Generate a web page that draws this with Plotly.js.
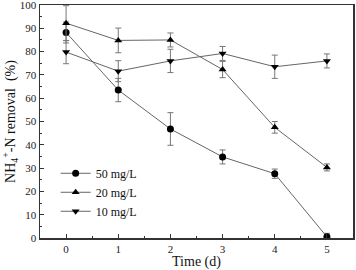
<!DOCTYPE html>
<html><head><meta charset="utf-8">
<script src="https://cdn.plot.ly/plotly-3.0.1.min.js"></script>
<style>body{margin:0;padding:0;background:#fff}#c{width:356px;height:270px}</style>
</head><body><div id="c"></div>
<script>
const time = [0, 1, 2, 3, 4, 5];
const s50 = [88.2, 63.5, 46.8, 34.8, 27.6, 0.5];
const e50 = [4.5, 5.0, 7.0, 3.0, 2.0, 1.5];
const s20 = [92.2, 84.8, 85.0, 72.3, 47.5, 30.3];
const e20 = [7.5, 5.3, 3.0, 3.5, 2.5, 1.5];
const s10 = [79.8, 71.6, 76.0, 79.2, 73.5, 76.0];
const e10 = [5.0, 4.5, 5.0, 3.0, 5.0, 3.0];
const names = ["50 mg/L", "20 mg/L", "10 mg/L"];
const symbols = ["circle", "triangle-up", "triangle-down"];
const topTicks = [0.1, 0.3, 0.5, 0.7, 0.9];

const serif = "Liberation Serif";
function tr(y, e, name, sym) {
  return {
    x: time, y: y, name: name, type: "scatter", mode: "lines+markers",
    line: {color: "#666", width: 1},
    marker: {symbol: sym, size: 7, color: "#000"},
    error_y: {type: "data", array: e, visible: true, color: "#777", thickness: 1, width: 3}
  };
}
const data = [tr(s50, e50, names[0], symbols[0]), tr(s20, e20, names[1], symbols[1]), tr(s10, e10, names[2], symbols[2])];
const axcommon = {
  showgrid: false, zeroline: false, showline: true, linecolor: "#333", linewidth: 1.5,
  mirror: true, ticks: "inside", ticklen: 4, tickcolor: "#333",
  ticklabeloverflow: "allow",
  tickfont: {family: serif, size: 11, color: "#222"}
};
const layout = {
  width: 356, height: 270,
  font: {family: serif},
  margin: {l: 40, r: 3, t: 5, b: 32},
  paper_bgcolor: "#fff", plot_bgcolor: "#fff",
  showlegend: true,
  legend: {x: 0.05, y: 0.34, xanchor: "left", yanchor: "top", bgcolor: "rgba(0,0,0,0)",
    font: {family: serif, size: 12, color: "#111"}, tracegroupgap: 0},
  xaxis: Object.assign({}, axcommon, {range: [-0.5, 5.5], tickvals: time, minor: {ticks: "inside", ticklen: 2, tickcolor: "#333", dtick: 0.5},
    title: {text: "Time (d)", font: {family: serif, size: 14, color: "#111"}, standoff: 2}}),
  xaxis2: {overlaying: "x", side: "top", range: [0, 1], tickvals: topTicks, showticklabels: false,
    ticks: "inside", ticklen: 3, tickcolor: "#333", showline: false, showgrid: false, zeroline: false},
  yaxis: Object.assign({}, axcommon, {range: [0, 100], dtick: 10, minor: {ticks: "inside", ticklen: 2, tickcolor: "#333", dtick: 5},
    title: {text: "NH<sub>4</sub><sup>+</sup>-N removal  (%)", font: {family: serif, size: 14, color: "#111"}, standoff: 4}})
};
Plotly.newPlot("c", data, layout, {displayModeBar: false, staticPlot: true});
</script></body></html>
